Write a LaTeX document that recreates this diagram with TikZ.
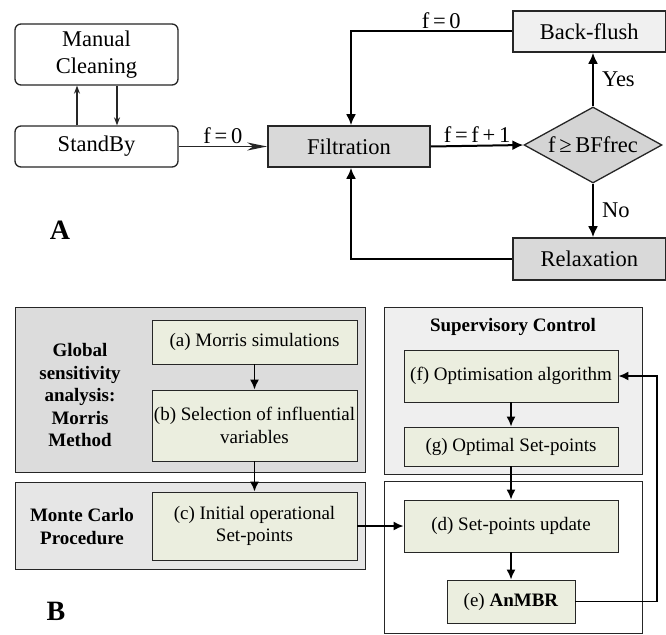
\documentclass[tikz,border=0pt]{standalone}
\usepackage{fontspec}
\setmainfont{Liberation Serif}
\usetikzlibrary{shapes.geometric,arrows.meta}
\definecolor{filtgray}{HTML}{D9D9D9}
\definecolor{bfgray}{HTML}{F0F0F0}
\definecolor{diagray}{HTML}{D4D4D4}
\definecolor{gsagray}{HTML}{DCDCDC}
\definecolor{mcgray}{HTML}{E6E6E6}
\definecolor{supgray}{HTML}{EFEFEF}
\definecolor{boxgreen}{HTML}{EBEEDF}
\definecolor{linegray}{HTML}{262626}
\begin{document}
\begin{tikzpicture}[x=1pt,y=-1pt,
  topfont/.style={font=\fontsize{22.5}{27.5}\selectfont},
  botfont/.style={font=\fontsize{19}{22.5}\selectfont},
  roundbox/.style={topfont,draw=linegray,line width=1.3pt,rounded corners=6pt,fill=white,minimum width=163pt,inner sep=0pt,align=center},
  statebox/.style={topfont,draw=linegray,line width=1.6pt,minimum width=162pt,minimum height=41pt,inner sep=0pt,align=center},
  thinarrow/.style={line width=1.2pt,draw=linegray,-{Stealth[length=8pt,width=6pt]}},
  longarrow/.style={line width=1.4pt,draw=linegray,-{Stealth[length=20pt,width=8pt,inset=6pt]}},
  loop/.style={line width=2pt,draw=black,-{Latex[length=11pt,width=10pt]}},
  edgelabel/.style={topfont,inner sep=2pt},
  panel/.style={draw=linegray,line width=0.9pt},
  greenbox/.style={botfont,draw=linegray,line width=0.9pt,fill=boxgreen,inner sep=0pt,align=center},
  botarrow/.style={line width=1.6pt,draw=black,-{Latex[length=10pt,width=9pt]}},
  paneltitle/.style={botfont,font=\fontsize{19}{22.5}\selectfont\bfseries,align=center}
]
\useasboundingbox (0,0) rectangle (666,634);

% ---------- Part A ----------
\node[roundbox,minimum height=61pt] (mc) at (96.5,54.5) {Manual\\Cleaning};
\node[roundbox,minimum height=41pt] (sb) at (96.5,146.5) {StandBy};
\node[statebox,fill=filtgray] (filt) at (349,146.5) {Filtration};
\node[statebox,fill=bfgray,minimum width=152.5pt] (bf) at (589.25,31.5) {Back-flush};
\node[statebox,fill=filtgray,minimum width=152.5pt,minimum height=42pt] (rel) at (589.25,259) {Relaxation};
\node[topfont,diamond,draw=linegray,line width=1.3pt,fill=diagray,aspect=1.8,inner sep=0pt,minimum width=138pt,minimum height=76pt] (dia) at (593,145) {f\,≥\,BFfrec};

\draw[thinarrow] ([xshift=-19.5pt]sb.north) -- ([xshift=-19.5pt]mc.south);
\draw[thinarrow] ([xshift=20.5pt]mc.south) -- ([xshift=20.5pt]sb.north);
\draw[longarrow] (sb.east) -- node[edgelabel,above] {f\,=\,0} (filt.west);

\draw[loop] (bf.west) -| node[edgelabel,above,pos=0.22] {f\,=\,0} ([xshift=2pt]filt.north);
\draw[loop] (filt.east) -- node[edgelabel,above] {f\,=\,f\,+\,1} (dia.west);
\draw[loop] (dia.north) -- node[edgelabel,right=6pt] {Yes} (dia.north |- bf.south);
\draw[loop] (dia.south) -- node[edgelabel,right=6pt] {No} (dia.south |- rel.north);
\draw[loop] (rel.west) -| ([xshift=2pt]filt.south);

\node[font=\fontsize{28}{30}\selectfont\bfseries] (labA) at (60,230) {A};

% ---------- Part B ----------
\node[panel,fill=gsagray,minimum width=350pt,minimum height=165pt,inner sep=0pt] (gsa) at (190,389.5) {};
\node[panel,fill=mcgray,minimum width=350pt,minimum height=87pt,inner sep=0pt] (mcp) at (190,525.5) {};
\node[panel,fill=supgray,minimum width=258pt,minimum height=167pt,inner sep=0pt] (sup) at (513,390.5) {};
\node[panel,fill=white,minimum width=258pt,minimum height=152pt,inner sep=0pt] (low) at (513,557) {};

\node[paneltitle] (gsat) at (80,395) {Global\\sensitivity\\analysis:\\Morris\\Method};
\node[paneltitle] (mct) at (82,526.5) {Monte Carlo\\Procedure};
\node[paneltitle] (supt) at (513,327) {Supervisory Control};

\node[greenbox,minimum width=205pt,minimum height=44pt] (a) at (254.5,342) {(a) Morris simulations};
\node[greenbox,minimum width=205pt,minimum height=71pt] (b) at (254.5,425.5) {(b) Selection of influential\\variables};
\node[greenbox,minimum width=205pt,minimum height=68pt] (c) at (254.5,526) {(c) Initial operational\\Set-points};
\node[greenbox,minimum width=214pt,minimum height=52pt] (f) at (511,376) {(f) Optimisation algorithm};
\node[greenbox,minimum width=214pt,minimum height=39pt] (g) at (511,446.5) {(g) Optimal Set-points};
\node[greenbox,minimum width=214pt,minimum height=52pt] (d) at (511,526) {(d) Set-points update};
\node[greenbox,minimum width=128pt,minimum height=43pt] (e) at (511,601.5) {(e) \textbf{AnMBR}};

\coordinate (ret) at (657,0);

\draw[botarrow] (a.south) -- (b.north);
\draw[botarrow] (b.south) -- (c.north);
\draw[botarrow] (f.south) -- (g.north);
\draw[botarrow] (g.south) -- (d.north);
\draw[botarrow] (d.south) -- (e.north);
\draw[botarrow] (c.east) -- (d.west);
\draw[botarrow] (e.east) -- (e.east -| ret) |- (f.east);

\node[font=\fontsize{28}{30}\selectfont\bfseries] (labB) at (56,611) {B};
\end{tikzpicture}
\end{document}
